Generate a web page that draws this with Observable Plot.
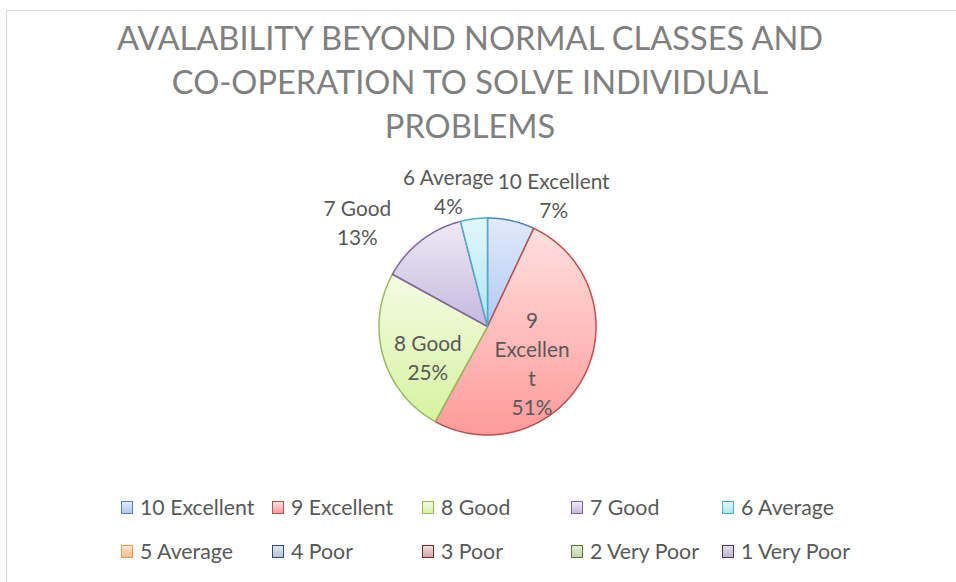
<!DOCTYPE html>
<html>
<head>
<meta charset="utf-8">
<script src="https://cdn.jsdelivr.net/npm/d3@7"></script>
<script src="https://cdn.jsdelivr.net/npm/@observablehq/plot@0.6"></script>
<style>
  html, body { margin: 0; padding: 0; background: #fff; }
  body { width: 956px; height: 582px; position: relative; overflow: hidden; font-family: Lato, "Open Sans", sans-serif; }
  #frame { position: absolute; left: 6px; top: 10px; width: 980px; height: 620px; border: 1px solid #d9d9d9; box-sizing: border-box; }
  #title { position: absolute; left: 0; top: 16px; width: 940px; text-align: center; color: #808080; font-size: 32.6px; line-height: 44px; letter-spacing: 0; }
  #chart { position: absolute; left: 0; top: 150px; }
  .lg { position: absolute; display: flex; align-items: center; font-size: 21.3px; color: #595959; white-space: nowrap; }
  .sw { width: 10px; height: 11px; border: 1.5px solid; margin-right: 7px; box-sizing: content-box; }
</style>
</head>
<body>
<div id="frame"></div>
<div id="title">AVALABILITY BEYOND NORMAL CLASSES AND<br>CO-OPERATION TO SOLVE INDIVIDUAL<br>PROBLEMS</div>
<div id="chart"></div>
<div id="legend"></div>
<script>
// ---- data ----
const categories = ["10 Excellent", "9 Excellent", "8 Good", "7 Good", "6 Average", "5 Average", "4 Poor", "3 Poor", "2 Very Poor", "1 Very Poor"];
const percents = [7, 51, 25, 13, 4, 0, 0, 0, 0, 0];
const labelNames = ["10 Excellent", "9\nExcellen\nt", "8 Good", "7 Good", "6 Average", "5 Average", "4 Poor", "3 Poor", "2 Very Poor", "1 Very Poor"];

// ---- styles ----
const strokes = ["#4f81bd", "#c0504d", "#9bbb59", "#8064a2", "#4bacc6", "#f79646", "#2c4d75", "#772c2a", "#5f7530", "#4d3b62"];
const topFill = ["#e2eafa", "#ffe0e0", "#f4fbe4", "#eee9f5", "#e2f6fb", "#fde6d2", "#e0e6ef", "#efdcdc", "#e6eddb", "#e4dfea"];
const botFill = ["#b1c8f3", "#ff9a9a", "#d6f3a0", "#c6b9df", "#aee6f2", "#fbbd8a", "#b6c3d6", "#d4a8a8", "#c4d3ac", "#bfb4cc"];
// label anchor in pie-radius units (x right, y up), mimicking Excel best-fit placement
const labelPos = {
  "10 Excellent": [0.61, 1.22],
  "9 Excellent": [0.41, -0.33],
  "8 Good": [-0.55, -0.27],
  "7 Good": [-1.20, 0.97],
  "6 Average": [-0.36, 1.26]
};

// ---- build slices ----
const total = d3.sum(percents);
const slices = [];
let acc = 0;
categories.forEach((c, i) => {
  const a0 = acc / total * 2 * Math.PI;
  acc += percents[i];
  const a1 = acc / total * 2 * Math.PI;
  if (percents[i] <= 0) return;
  const pts = [{x: 0, y: 0}];
  const n = Math.max(2, Math.ceil((a1 - a0) / (Math.PI / 360)));
  for (let k = 0; k <= n; k++) {
    const a = a0 + (a1 - a0) * k / n;
    pts.push({x: Math.sin(a), y: Math.cos(a)});
  }
  pts.push({x: 0, y: 0});
  slices.push({i, name: c, pts});
});

const labels = categories.map((c, i) => ({name: c, text: labelNames[i] + "\n" + percents[i] + "%", pos: labelPos[c]})).filter(d => d.pos);

const cx = 487, cy = 176, R = 108.5;
const marks = slices.map(s => Plot.line(s.pts, {x: "x", y: "y", fill: `url(#g${s.i})`, stroke: strokes[s.i], strokeWidth: 1.5, curve: "linear", strokeLinejoin: "round"}));
marks.push(Plot.text(labels, {x: d => d.pos[0], y: d => d.pos[1], text: "text", fontSize: 20.8, lineHeight: 1.4, fill: "#595959", fontFamily: "Lato, 'Open Sans', sans-serif"}));

const svg = Plot.plot({
  width: 956,
  height: 340,
  x: {domain: [-1, 1], range: [cx - R, cx + R], axis: null},
  y: {domain: [-1, 1], range: [cy + R, cy - R], axis: null},
  style: {fontFamily: "Lato, 'Open Sans', sans-serif", background: "transparent", overflow: "visible"},
  marks
});

// gradients
const ns = "http://www.w3.org/2000/svg";
const defs = document.createElementNS(ns, "defs");
categories.forEach((c, i) => {
  const g = document.createElementNS(ns, "linearGradient");
  g.setAttribute("id", "g" + i);
  g.setAttribute("x1", "0"); g.setAttribute("y1", "0");
  g.setAttribute("x2", "0"); g.setAttribute("y2", "1");
  [[0, topFill[i]], [1, botFill[i]]].forEach(([o, col]) => {
    const s = document.createElementNS(ns, "stop");
    s.setAttribute("offset", o); s.setAttribute("stop-color", col);
    g.appendChild(s);
  });
  defs.appendChild(g);
});
svg.insertBefore(defs, svg.firstChild);
document.getElementById("chart").appendChild(svg);

// legend
const colX = [121, 272, 422, 571, 722];
const rowY = [507, 551];
const lg = document.getElementById("legend");
categories.forEach((c, i) => {
  const el = document.createElement("div");
  el.className = "lg";
  el.style.left = colX[i % 5] + "px";
  el.style.top = (rowY[Math.floor(i / 5)] - 14) + "px";
  el.style.height = "28px";
  const sw = document.createElement("div");
  sw.className = "sw";
  sw.style.borderColor = strokes[i];
  sw.style.background = `linear-gradient(${topFill[i]}, ${botFill[i]})`;
  el.appendChild(sw);
  const t = document.createElement("span");
  t.textContent = c;
  el.appendChild(t);
  lg.appendChild(el);
});
</script>
</body>
</html>
